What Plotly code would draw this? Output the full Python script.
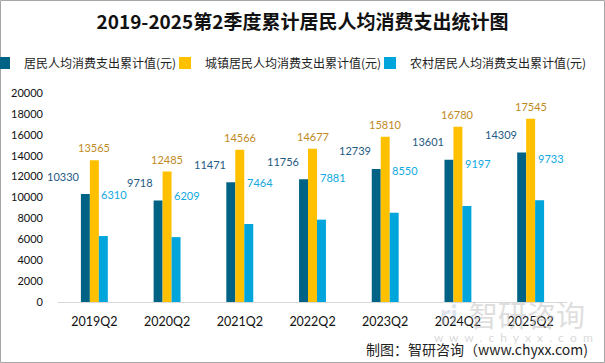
import plotly.graph_objects as go

categories = ["2019Q2", "2020Q2", "2021Q2", "2022Q2", "2023Q2", "2024Q2", "2025Q2"]
resident = [10330, 9718, 11471, 11756, 12739, 13601, 14309]
urban = [13565, 12485, 14566, 14677, 15810, 16780, 17545]
rural = [6310, 6209, 7464, 7881, 8550, 9197, 9733]
names = ["居民人均消费支出累计值(元)", "城镇居民人均消费支出累计值(元)", "农村居民人均消费支出累计值(元)"]
y_ticks = [0, 2000, 4000, 6000, 8000, 10000, 12000, 14000, 16000, 18000, 20000]

bar_colors = ["#006385", "#FFC000", "#00A5DC"]
label_colors = ["#1F5A82", "#C08A1E", "#10A8E0"]
num_font = "Lato, 'Noto Sans CJK SC', sans-serif"
cjk_font = "'Noto Sans CJK SC', sans-serif"

L, T, W, H = 58, 93, 509, 209  # plot area in pixels


def px(x):
    return (x - L) / W


def py(y):
    return (T + H - y) / H


fig = go.Figure()
legend_ids = ["legend", "legend2", "legend3"]
for name, vals, c, lg in zip(names, [resident, urban, rural], bar_colors, legend_ids):
    fig.add_trace(go.Bar(x=categories, y=vals, name=name, legend=lg,
                         marker=dict(color=c, line=dict(width=0))))

ann = []
for cat, v in zip(categories, resident):
    ann.append(dict(x=cat, y=v, text=str(v), showarrow=False, xanchor="right", yanchor="middle",
                    xshift=-12, yshift=18, font=dict(family=num_font, size=11, color=label_colors[0])))
for cat, v in zip(categories, urban):
    ann.append(dict(x=cat, y=v, text=str(v), showarrow=False, xanchor="center", yanchor="middle",
                    xshift=0, yshift=12.5, font=dict(family=num_font, size=11, color=label_colors[1])))
for cat, v in zip(categories, rural):
    ann.append(dict(x=cat, y=v, text=str(v), showarrow=False, xanchor="left", yanchor="middle",
                    xshift=5, yshift=42, font=dict(family=num_font, size=11, color=label_colors[2])))

# watermark
ann.append(dict(xref="paper", yref="paper", x=px(527), y=py(314), text="智研咨询",
                showarrow=False, xanchor="center", yanchor="middle",
                font=dict(family=cjk_font, size=29, color="rgba(190,190,190,0.5)")))
ann.append(dict(xref="paper", yref="paper", x=px(449), y=py(314), text="<b>ri</b>",
                showarrow=False, xanchor="center", yanchor="middle",
                font=dict(family=num_font, size=28, color="rgba(160,175,200,0.35)")))
ann.append(dict(xref="paper", yref="paper", x=px(513), y=py(337),
                text="\u00a0\u00a0".join(list("www.chyxx.com")),
                showarrow=False, xanchor="center", yanchor="middle",
                font=dict(family=num_font, size=12, color="rgba(190,190,190,0.6)")))
# footer
ann.append(dict(xref="paper", yref="paper", x=px(590), y=py(349), text="制图：智研咨询（www.chyxx.com)",
                showarrow=False, xanchor="right", yanchor="middle",
                font=dict(family=cjk_font, size=14, color="#222222")))

legend_common = dict(orientation="h", yanchor="middle", xanchor="left", y=py(63),
                     font=dict(family=cjk_font, size=12, color="#222222"), itemwidth=30,
                     indentation=-12, bgcolor="rgba(0,0,0,0)")

fig.update_layout(
    width=605, height=363,
    margin=dict(l=L, r=605 - L - W, t=T, b=363 - T - H, autoexpand=False),
    paper_bgcolor="white", plot_bgcolor="white",
    title=dict(text="<b>2019-2025第2季度累计居民人均消费支出统计图</b>", x=0.5, xanchor="center",
               y=1 - 22 / 363, yanchor="middle", font=dict(family=cjk_font, size=19, color="#111111")),
    barmode="group", bargap=0.63, bargroupgap=0,
    showlegend=True,
    legend=dict(x=px(-4), **legend_common),
    legend2=dict(x=px(177), **legend_common),
    legend3=dict(x=px(382), **legend_common),
    xaxis=dict(range=[-0.5, 6.5], showgrid=False, showline=True, linecolor="#D9D9D9", linewidth=1, ticks="",
               automargin=False, tickfont=dict(family=num_font, size=12.5, color="#111111"),
               ticklabelstandoff=8),
    yaxis=dict(range=[0, 20000], tickvals=y_ticks, tickformat="d", showgrid=False, zeroline=False,
               showline=False, ticks="", automargin=False,
               tickfont=dict(family=num_font, size=11, color="#111111"), ticklabelstandoff=14),
    annotations=ann,
    shapes=[dict(type="rect", xref="paper", yref="paper",
                 x0=px(0.5), x1=px(604.5), y0=py(362.5), y1=py(0.5),
                 line=dict(color="#A6A6A6", width=1), fillcolor="rgba(0,0,0,0)", layer="below")],
)

fig.write_html("out.html", config={"displayModeBar": False},
               post_script="document.body.style.margin='0';document.body.style.overflow='hidden';")
